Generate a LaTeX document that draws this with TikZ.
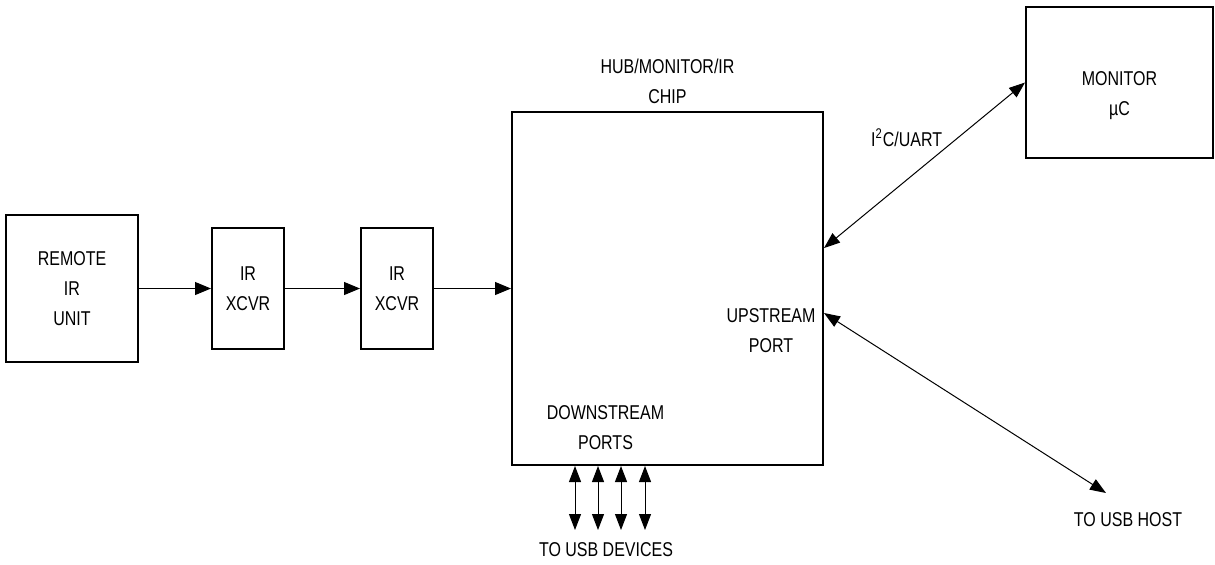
\documentclass[tikz,border=0pt]{standalone}
\usepackage{fontspec}
\setmainfont{Liberation Sans}[FakeStretch=0.8]
\usetikzlibrary{arrows.meta,positioning}

\tikzset{
  block/.style={draw,line width=1pt,inner sep=0pt,align=center},
  link/.style={line width=0.5pt,-{Triangle[length=8pt,width=6.5pt]}},
  duplex/.style={line width=0.5pt,{Triangle[length=8pt,width=6pt]}-{Triangle[length=8pt,width=6pt]}},
}

\begin{document}
\begin{tikzpicture}[x=0.5pt,y=-0.5pt,node distance=37.5pt,font=\fontsize{10}{15}\selectfont]
\useasboundingbox (0,0) rectangle (1215,564);

\node[block,minimum width=66pt,minimum height=73.5pt] (remote) at (72,288.5) {REMOTE\\IR\\UNIT};
\node[block,minimum width=36pt,minimum height=60.5pt] (xcvrA) [right=36pt of remote] {IR\\XCVR};
\node[block,minimum width=36pt,minimum height=60.5pt] (xcvrB) [right=of xcvrA] {IR\\XCVR};
\node[block,minimum width=155.5pt,minimum height=176.5pt] (hub) [right=38.5pt of xcvrB] {};
\node[block,minimum width=93.5pt,minimum height=75.5pt] (mon) at (1119.5,82.5) {};

\node[align=center,inner sep=0pt] (title) [above=3.5pt of hub.north] {HUB/MONITOR/IR\\CHIP};
\node[align=center] (montext) at ([yshift=-6.75pt]mon.center) {MONITOR\\µC};
\node[align=center] (down) at ([xshift=-31pt,yshift=19pt]hub.south) {DOWNSTREAM\\PORTS};
\node[align=center] (up) at ([xshift=-26.5pt,yshift=-21pt]hub.east) {UPSTREAM\\PORT};
\node (host) at (1128,520) {TO USB HOST};
\node (devices) at (606,550) {TO USB DEVICES};

\coordinate (hostend) at ([xshift=-11pt,yshift=13.5pt]host.center);
\coordinate (devtop) at ([yshift=10pt]devices.center);

\path[link] (remote) edge (xcvrA)
            (xcvrA) edge (xcvrB)
            (xcvrB) edge (hub);

\draw[duplex] ([yshift=20.25pt]hub.east) -- node[pos=0.6,anchor=south east,inner sep=1pt] (bus) {I\textsuperscript{2}C/UART} (mon.west);
\draw[duplex] ([yshift=-12.25pt]hub.east) -- (hostend);

\foreach \dx in {-46.25,-34.75,-23.25,-11.25}
  \draw[duplex] ([xshift=\dx pt]hub.south) -- ([xshift=\dx pt]hub.south |- devtop);
\end{tikzpicture}
\end{document}
